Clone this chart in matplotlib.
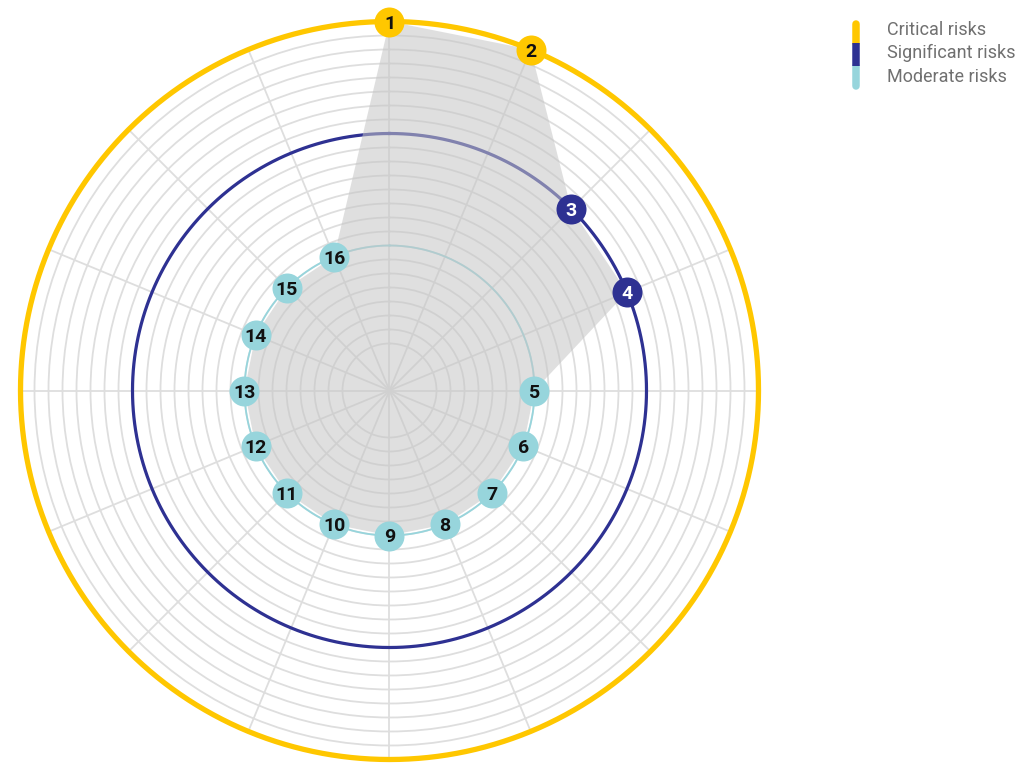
import numpy as np
import matplotlib
matplotlib.use("Agg")
import matplotlib.pyplot as plt
from matplotlib.lines import Line2D

# ---- data ----
risk_ids = [str(i) for i in range(1, 17)]
risk_levels = ["Critical", "Critical", "Significant", "Significant"] + ["Moderate"] * 12
level_values = {"Critical": 26, "Significant": 18, "Moderate": 10}
legend_labels = ["Critical risks", "Significant risks", "Moderate risks"]

colors = {"Critical": "#FFC700", "Significant": "#2E3192", "Moderate": "#97D5DC"}
text_colors = {"Critical": "#111111", "Significant": "#FFFFFF", "Moderate": "#111111"}

values = [level_values[l] for l in risk_levels]
n = len(risk_ids)
theta = np.arange(n) * 2 * np.pi / n

W, H = 1020, 769
fig = plt.figure(figsize=(W / 100, H / 100), dpi=100)

cx, cy = 389.5, 390.5
unit = 14.0
r0 = 5.0 / unit
rmax = 26
R = (rmax + r0) * unit
ax = fig.add_axes([(cx - R) / W, (H - cy - R) / H, 2 * R / W, 2 * R / H], projection="polar")
ax.set_theta_zero_location("N")
ax.set_theta_direction(-1)
ax.set_ylim(-r0, rmax)
for sp in ax.spines.values():
    sp.set_visible(False)
ax.patch.set_visible(False)

ax.set_xticks(theta)
ax.set_xticklabels([])
ax.set_yticks(np.arange(3, rmax + 1))
ax.set_yticklabels([])
ax.tick_params(length=0)
ax.grid(True, color="#dedede", linewidth=1.3)

# level circles
tt = np.linspace(0, 2 * np.pi, 721)
ax.plot(tt, np.full_like(tt, level_values["Critical"]), color=colors["Critical"], lw=3.8, zorder=2, clip_on=False)
ax.plot(tt, np.full_like(tt, level_values["Significant"]), color=colors["Significant"], lw=2.3, zorder=2, clip_on=False)
ax.plot(tt, np.full_like(tt, level_values["Moderate"]), color=colors["Moderate"], lw=1.3, zorder=2, clip_on=False)

# filled polygon
th_c = np.append(theta, theta[0])
v_c = np.append(values, values[0])
ax.fill(th_c, v_c, color="#c6c6c6", alpha=0.55, lw=0, zorder=3, clip_on=False)

# markers + labels
digit_font = ["Roboto", "DejaVu Sans"]
for t, v, lvl, lab in zip(theta, values, risk_levels, risk_ids):
    ax.plot([t], [v], "o", ms=21.6, mew=0, color=colors[lvl], zorder=4, clip_on=False)
    ax.text(t, v, lab, ha="center", va="center_baseline", fontsize=14, weight="bold",
            color=text_colors[lvl], family=digit_font, zorder=5, clip_on=False)

# legend
def fx(x):
    return x / W

def fy(y):
    return 1 - y / H

bar_x = 856
segs = [(23.5, 43), (43, 66), (66, 86)]
lw_pt = 7.5 * 72 / 100
fig.add_artist(Line2D([fx(bar_x)] * 2, [fy(segs[0][0]), fy(segs[0][1])], color=colors["Critical"],
                      lw=lw_pt, solid_capstyle="round"))
fig.add_artist(Line2D([fx(bar_x)] * 2, [fy(segs[2][0]), fy(segs[2][1])], color=colors["Moderate"],
                      lw=lw_pt, solid_capstyle="round"))
fig.add_artist(Line2D([fx(bar_x)] * 2, [fy(segs[1][0]), fy(segs[1][1])], color=colors["Significant"],
                      lw=lw_pt, solid_capstyle="butt"))

label_y = [30, 53, 77]
for lab, y in zip(legend_labels, label_y):
    fig.text(fx(887), fy(y), lab, ha="left", va="center", fontsize=13,
             color="#707070", family=digit_font)

fig.savefig("out.png", dpi=100)
